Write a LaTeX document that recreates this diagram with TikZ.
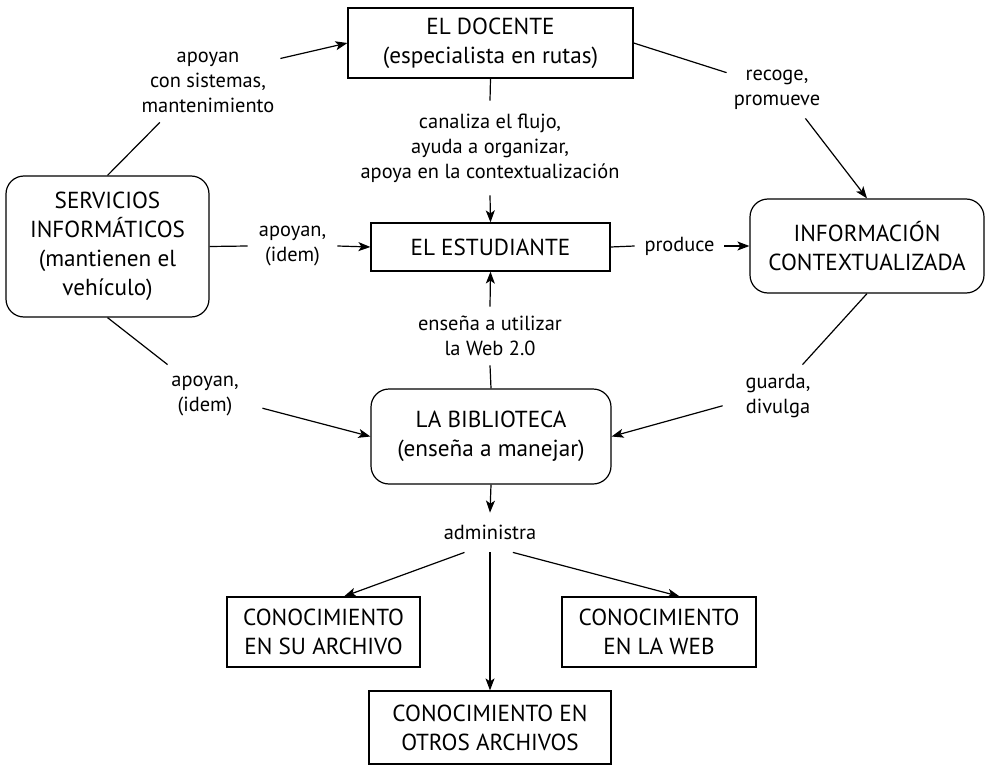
\documentclass[tikz,border=0pt]{standalone}
\usepackage{fontspec}
\setmainfont{PT Sans}
\usetikzlibrary{arrows.meta}

\tikzstyle{caja}=[draw,rectangle,align=center,inner sep=0pt,line width=0.6pt,font=\fontsize{11.6}{14.5}\selectfont]
\tikzstyle{cajared}=[caja,rounded corners=9pt]
\tikzstyle{etiq}=[align=center,inner sep=0pt,font=\fontsize{10.2}{12.5}\selectfont]
\tikzstyle{linea}=[line width=0.6pt]
\tikzstyle{flecha}=[line width=0.6pt,-{Stealth[length=6pt,width=4.5pt,inset=1.5pt]}]

\begin{document}
\begin{tikzpicture}[x=0.5pt,y=-0.5pt]
\useasboundingbox (0,0) rectangle (985,765);
% boxes
\node[caja,minimum width=142.5pt,minimum height=35pt] (doc) at (490.5,43) {EL DOCENTE\\(especialista en rutas)};
\node[caja,minimum width=119.5pt,minimum height=24pt] (est) at (490.5,247) {EL ESTUDIANTE};
\node[cajared,minimum width=101.5pt,minimum height=70.5pt] (serv) at (107.5,246.5) {SERVICIOS\\INFORMÁTICOS\\(mantienen el\\vehículo)};
\node[cajared,minimum width=117pt,minimum height=47pt] (info) at (867,246) {INFORMACIÓN\\CONTEXTUALIZADA};
\node[cajared,minimum width=120pt,minimum height=47.5pt] (bib) at (491,436.5) {LA BIBLIOTECA\\(enseña a manejar)};
\node[caja,minimum width=96.5pt,minimum height=35pt] (conA) at (323.5,632) {CONOCIMIENTO\\EN SU ARCHIVO};
\node[caja,minimum width=97pt,minimum height=35pt] (conW) at (659,632) {CONOCIMIENTO\\EN LA WEB};
\node[caja,minimum width=121pt,minimum height=36.5pt] (conO) at (490,727.5) {CONOCIMIENTO EN\\OTROS ARCHIVOS};

% labels
\node[etiq,minimum width=72pt,minimum height=40pt] (apoyan1) at (208,82) {apoyan\\con sistemas,\\mantenimiento};
\node[etiq,minimum width=50pt,minimum height=28pt] (recoge) at (777,90) {recoge,\\promueve};
\node[etiq,minimum height=47pt] (canaliza) at (490,148) {canaliza el flujo,\\ayuda a organizar,\\apoya en la contextualización};
\node[etiq,minimum width=44.5pt,minimum height=24pt] (apoyan2) at (292.5,246) {apoyan,\\(idem)};
\node[etiq,minimum width=44.5pt,minimum height=20pt] (produce) at (679.5,246) {produce};
\node[etiq,minimum height=29pt] (ensena) at (490,336) {enseña a utilizar\\la Web 2.0};
\node[etiq,minimum width=57pt,minimum height=31pt] (apoyan3) at (205,396) {apoyan,\\(idem)};
\node[etiq,minimum width=55pt,minimum height=31pt] (guarda) at (778,396) {guarda,\\divulga};
\node[etiq,minimum width=46pt,minimum height=19.5pt] (admin) at (490,532.5) {administra};

% upper part
\draw[linea] (serv.north) -- (apoyan1.-140);
\draw[flecha] (apoyan1.18) -- (doc.west);
\draw[linea] (doc.east) -- (recoge.161);
\draw[flecha] (recoge.-45) -- (info.north);
\draw[linea] (doc.south) -- (canaliza.north);
\draw[flecha] (canaliza.south) -- (est.north);
% middle row
\draw[linea] (serv.east) -- (apoyan2.west);
\draw[flecha] (apoyan2.east) -- (est.west);
\draw[linea] (est.east) -- (produce.west);
\draw[flecha] (produce.east) -- (info.west);
% lower part
\draw[linea] (bib.north) -- (ensena.south);
\draw[flecha] (ensena.north) -- (est.south);
\draw[linea] (serv.south) -- (apoyan3.140);
\draw[flecha] (apoyan3.-12) -- (bib.west);
\draw[linea] (info.south) -- (guarda.52);
\draw[flecha] (guarda.190) -- (bib.east);
% knowledge
\draw[flecha] (bib.south) -- (admin.north);
\draw[flecha] (admin.-142) -- (conA.60);
\draw[flecha] (admin.south) -- (conO.north);
\draw[flecha] (admin.-41) -- (conW.60);
\end{tikzpicture}
\end{document}
